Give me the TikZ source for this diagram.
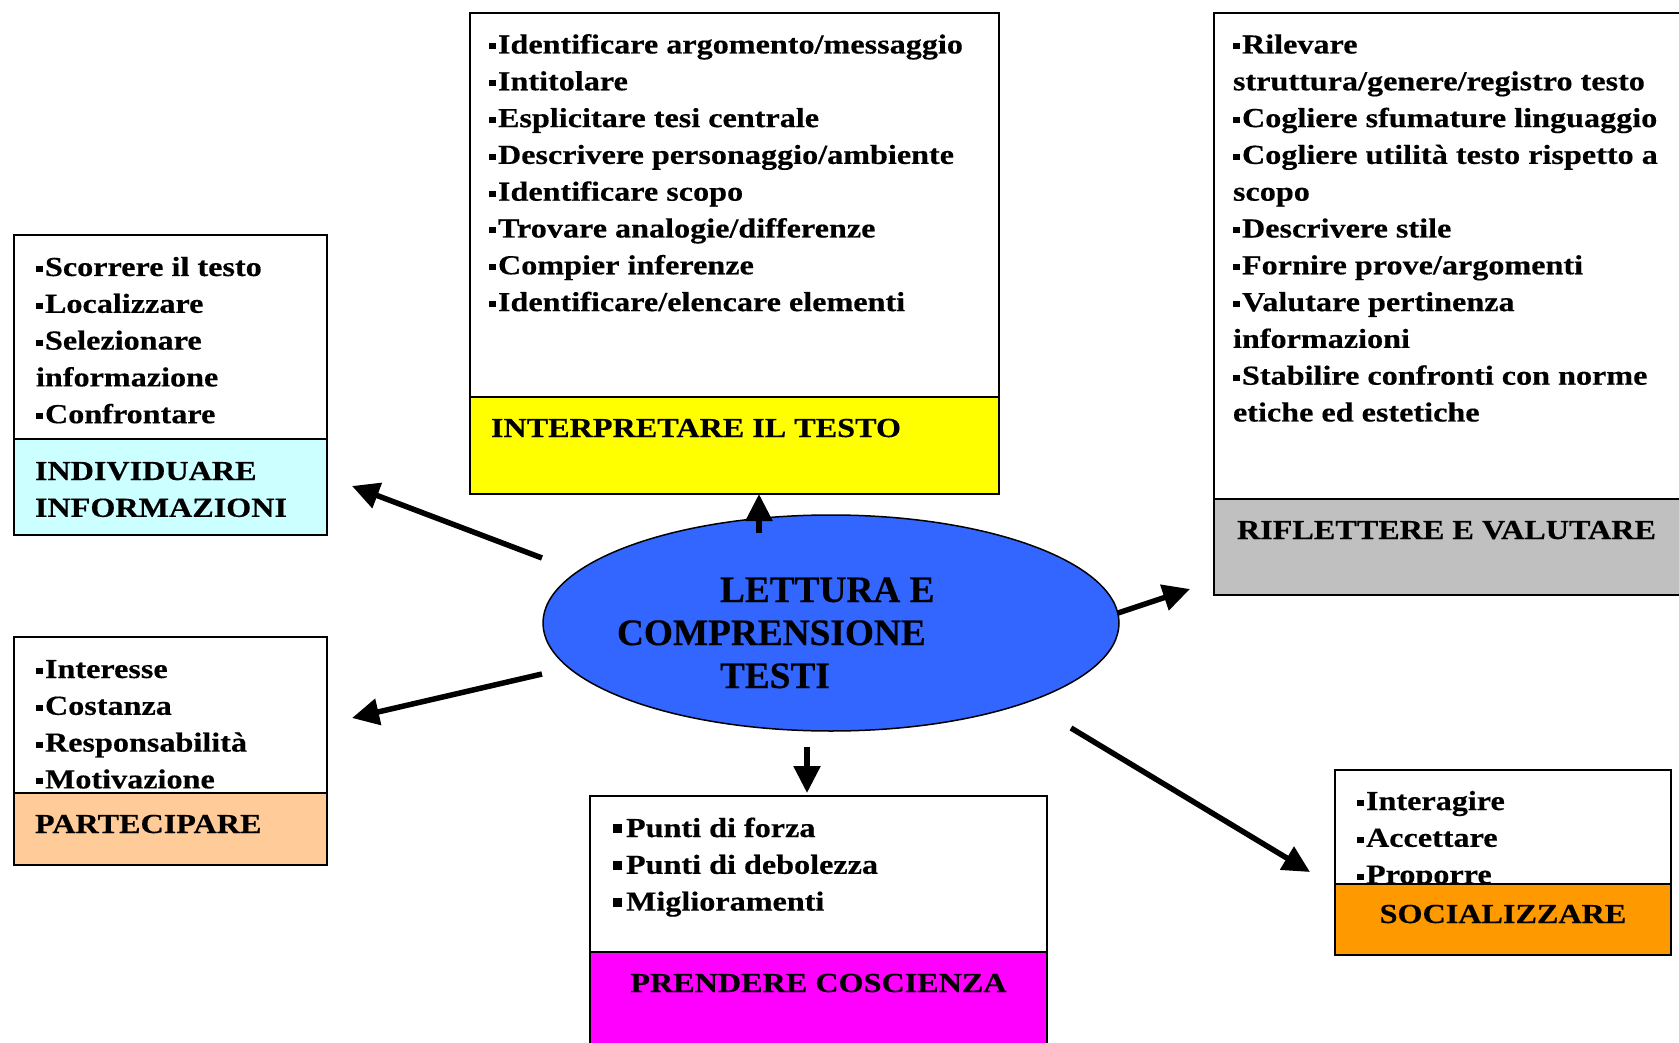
\documentclass[tikz,border=0pt]{standalone}
\usepackage{fontspec}
\setmainfont{Liberation Serif}[FakeStretch=1.17,BoldFeatures={FakeBold=0.4}]
\newfontfamily\corefont{Liberation Serif}[BoldFeatures={FakeBold=0.4}]
\usetikzlibrary{shapes.geometric,arrows.meta}
\definecolor{cInd}{HTML}{CCFFFF}
\definecolor{cInt}{HTML}{FFFF00}
\definecolor{cRif}{HTML}{C0C0C0}
\definecolor{cPar}{HTML}{FFCC99}
\definecolor{cPre}{HTML}{FF00FF}
\definecolor{cSoc}{HTML}{FF9900}
\definecolor{cCore}{HTML}{3366FF}
\newcommand\bl{\rule[4pt]{6.5pt}{6pt}\hspace{2.5pt}}
\newcommand\blb{\rule[4pt]{9pt}{9pt}\hspace{4pt}}
\begin{document}
\begin{tikzpicture}[x=1pt,y=-1pt,
  font=\bfseries\fontsize{27.5}{36.8}\selectfont,
  panel/.style={rectangle,draw=black,line width=2.5pt,anchor=north west,inner sep=0pt,outer sep=0pt},
  txt/.style={anchor=base west,inner sep=0pt,outer sep=0pt},
  ctxt/.style={anchor=base,inner sep=0pt,outer sep=0pt},
  arr/.style={line width=5.5pt,-{Triangle[length=27pt,width=26pt]}}]
\useasboundingbox (0,0) rectangle (1679,1043);
\clip (0,0) rectangle (1679,1043);
\fill[white] (0,0) rectangle (1679,1043);

% INDIVIDUARE INFORMAZIONI
\node[panel,fill=white,minimum width=313pt,minimum height=204pt] (indT) at (14,235) {};
\node[txt] (indL) at (36,276) {\begin{tabular}[t]{@{}l@{}}\bl Scorrere il testo\\ \bl Localizzare\\ \bl Selezionare\\ informazione\\ \bl Confrontare\end{tabular}};
\node[panel,fill=cInd,minimum width=313pt,minimum height=96pt] (indB) at (14,439) {};
\node[txt] (indH) at (35,480) {\begin{tabular}[t]{@{}l@{}}INDIVIDUARE\\ INFORMAZIONI\end{tabular}};

% INTERPRETARE IL TESTO
\node[panel,fill=white,minimum width=529pt,minimum height=384pt] (intT) at (470,13) {};
\node[txt] (intL) at (489,53.5) {\begin{tabular}[t]{@{}l@{}}\bl Identificare argomento/messaggio\\ \bl Intitolare\\ \bl Esplicitare tesi centrale\\ \bl Descrivere personaggio/ambiente\\ \bl Identificare scopo\\ \bl Trovare analogie/differenze\\ \bl Compier inferenze\\ \bl Identificare/elencare elementi\end{tabular}};
\node[panel,fill=cInt,minimum width=529pt,minimum height=97pt] (intB) at (470,397) {};
\node[txt] (intH) at (491,437) {INTERPRETARE IL TESTO};

% RIFLETTERE E VALUTARE
\node[panel,fill=white,minimum width=490pt,minimum height=486pt] (rifT) at (1214,13) {};
\node[txt] (rifL) at (1233,53.5) {\begin{tabular}[t]{@{}l@{}}\bl Rilevare\\ struttura/genere/registro testo\\ \bl Cogliere sfumature linguaggio\\ \bl Cogliere utilità testo rispetto a\\ scopo\\ \bl Descrivere stile\\ \bl Fornire prove/argomenti\\ \bl Valutare pertinenza\\ informazioni\\ \bl Stabilire confronti con norme\\ etiche ed estetiche\end{tabular}};
\node[panel,fill=cRif,minimum width=490pt,minimum height=96pt] (rifB) at (1214,499) {};
\node[txt] (rifH) at (1237,539) {RIFLETTERE E VALUTARE};

% PARTECIPARE
\node[panel,fill=white,minimum width=313pt,minimum height=156pt] (parT) at (14,637) {};
\node[txt] (parL) at (36,678) {\begin{tabular}[t]{@{}l@{}}\bl Interesse\\ \bl Costanza\\ \bl Responsabilità\\ \bl Motivazione\end{tabular}};
\node[panel,fill=cPar,minimum width=313pt,minimum height=72pt] (parB) at (14,793) {};
\node[txt] (parH) at (35,833) {PARTECIPARE};

% PRENDERE COSCIENZA
\node[panel,fill=white,minimum width=457pt,minimum height=156pt] (preT) at (590,796) {};
\node[txt] (preL) at (613,837) {\begin{tabular}[t]{@{}l@{}}\blb Punti di forza\\ \blb Punti di debolezza\\ \blb Miglioramenti\end{tabular}};
\node[panel,fill=cPre,minimum width=457pt,minimum height=120pt] (preB) at (590,952) {};
\node[ctxt] (preH) at (818.5,992) {PRENDERE COSCIENZA};

% SOCIALIZZARE
\node[panel,fill=white,minimum width=336pt,minimum height=114pt] (socT) at (1335,770) {};
\node[txt] (socL) at (1357,810) {\begin{tabular}[t]{@{}l@{}}\bl Interagire\\ \bl Accettare\\ \bl Proporre\end{tabular}};
\node[panel,fill=cSoc,minimum width=336pt,minimum height=71pt] (socB) at (1335,884) {};
\node[ctxt] (socH) at (1503,923) {SOCIALIZZARE};

% centre
\node[ellipse,draw=black,line width=1.5pt,fill=cCore,minimum width=576pt,minimum height=216pt,inner sep=0pt] (core) at (831,623) {};
\node[txt,font=\corefont\bfseries\fontsize{37.3}{43}\selectfont] (coreT) at (617,602) {\begin{tabular}[t]{@{}l@{}}\hspace{103pt}LETTURA E\\ COMPRENSIONE\\ \hspace{103pt}TESTI\end{tabular}};

% arrows
\coordinate (t1) at (542,558); \coordinate (h1) at (352,486);
\coordinate (t2) at (542,674); \coordinate (h2) at (352,718);
\coordinate (t3) at (759,533); \coordinate (h3) at (759,494);
\coordinate (t4) at (1118,613); \coordinate (h4) at (1190,589);
\coordinate (t5) at (807,747); \coordinate (h5) at (807,793);
\coordinate (t6) at (1071,728); \coordinate (h6) at (1310,872);
\draw[arr] (t1) -- (h1);
\draw[arr] (t2) -- (h2);
\draw[arr] (t3) -- (h3);
\draw[arr] (t4) -- (h4);
\draw[arr] (t5) -- (h5);
\draw[arr] (t6) -- (h6);
\end{tikzpicture}
\end{document}
